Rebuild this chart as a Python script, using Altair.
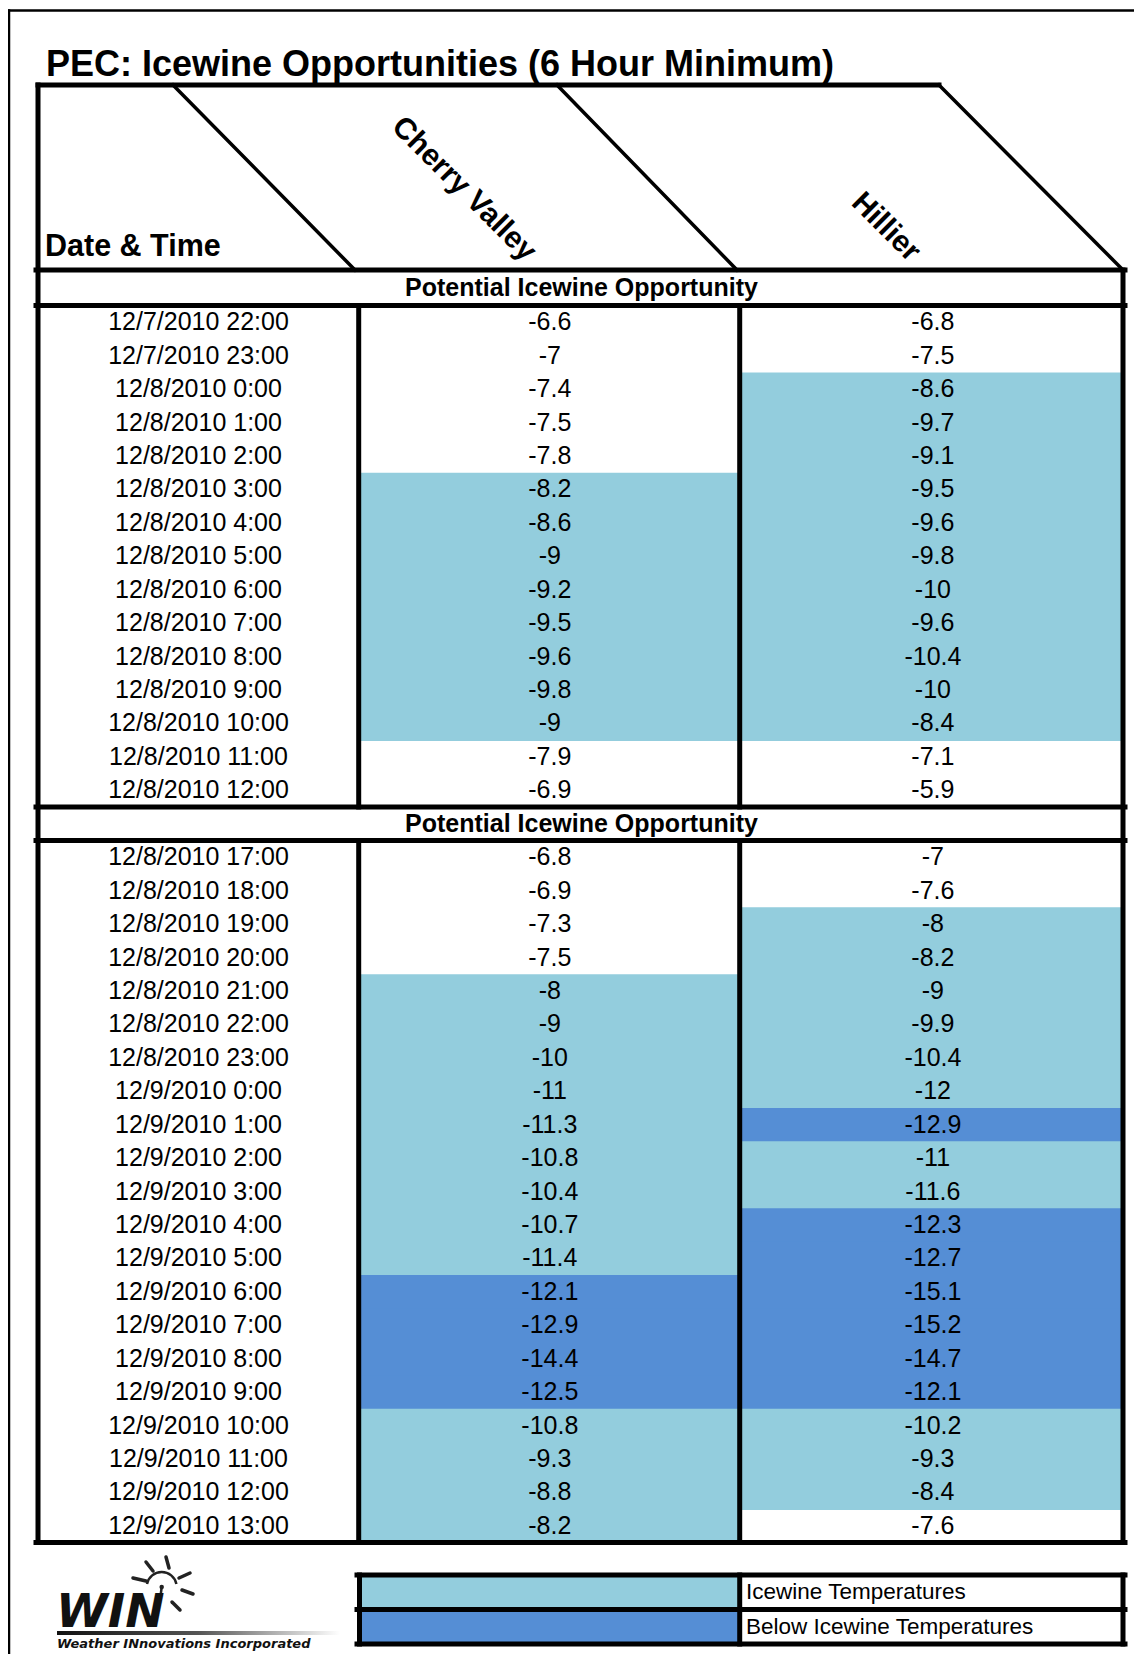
import altair as alt
import pandas as pd

# ---------------- data ----------------
TITLE = "PEC: Icewine Opportunities (6 Hour Minimum)"
DATE_HEADER = "Date & Time"
STATIONS = ["Cherry Valley", "Hillier"]
SECTION_TITLE = "Potential Icewine Opportunity"

dates_1 = ["12/7/2010 22:00", "12/7/2010 23:00", "12/8/2010 0:00", "12/8/2010 1:00",
           "12/8/2010 2:00", "12/8/2010 3:00", "12/8/2010 4:00", "12/8/2010 5:00",
           "12/8/2010 6:00", "12/8/2010 7:00", "12/8/2010 8:00", "12/8/2010 9:00",
           "12/8/2010 10:00", "12/8/2010 11:00", "12/8/2010 12:00"]
cherry_1 = [-6.6, -7, -7.4, -7.5, -7.8, -8.2, -8.6, -9, -9.2, -9.5, -9.6, -9.8, -9, -7.9, -6.9]
hillier_1 = [-6.8, -7.5, -8.6, -9.7, -9.1, -9.5, -9.6, -9.8, -10, -9.6, -10.4, -10, -8.4, -7.1, -5.9]
cherry_cls_1 = list("WWWWWIIIIIIIIWW")
hillier_cls_1 = list("WWIIIIIIIIIIIWW")

dates_2 = ["12/8/2010 17:00", "12/8/2010 18:00", "12/8/2010 19:00", "12/8/2010 20:00",
           "12/8/2010 21:00", "12/8/2010 22:00", "12/8/2010 23:00", "12/9/2010 0:00",
           "12/9/2010 1:00", "12/9/2010 2:00", "12/9/2010 3:00", "12/9/2010 4:00",
           "12/9/2010 5:00", "12/9/2010 6:00", "12/9/2010 7:00", "12/9/2010 8:00",
           "12/9/2010 9:00", "12/9/2010 10:00", "12/9/2010 11:00", "12/9/2010 12:00",
           "12/9/2010 13:00"]
cherry_2 = [-6.8, -6.9, -7.3, -7.5, -8, -9, -10, -11, -11.3, -10.8, -10.4, -10.7, -11.4,
            -12.1, -12.9, -14.4, -12.5, -10.8, -9.3, -8.8, -8.2]
hillier_2 = [-7, -7.6, -8, -8.2, -9, -9.9, -10.4, -12, -12.9, -11, -11.6, -12.3, -12.7,
             -15.1, -15.2, -14.7, -12.1, -10.2, -9.3, -8.4, -7.6]
cherry_cls_2 = list("WWWWIIIIIIIIIBBBBIIII")
hillier_cls_2 = list("WWIIIIIIBIIBBBBBBIIIW")

LEGEND_CLASSES = ["I", "B"]
LEGEND_LABELS = ["Icewine Temperatures", "Below Icewine Temperatures"]
CLASS_COLORS = ["#93CDDD", "#558ED5"]

LOGO_BIG = "WIN"
LOGO_SMALL = "Weather INnovations Incorporated"

# ---------------- layout (page pixels) ----------------
FONT = "Liberation Sans"
X_LEFT, X_C1, X_C2, X_RIGHT = 38, 358.7, 739.7, 1123
ROW_H = 33.43
HDR_TOP, HDR_BOT = 85, 270
SEC_HEAD = [(270, 305.6), (807.3, 840.5)]
COL_CENTER = [198.5, 549.8, 932.9]
LW = 5
W_PX, H_PX = 1126, 1646

XS = alt.Scale(domain=[8, 8 + W_PX], nice=False, zero=False)
YS = alt.Scale(domain=[8, 8 + H_PX], nice=False, zero=False, reverse=True)


def X(f):
    return alt.X(f, type="quantitative", scale=XS, axis=None)


def Y(f):
    return alt.Y(f, type="quantitative", scale=YS, axis=None)


fmt = lambda v: f"{v:g}"

# body rows
rows, cells = [], []
sections = [(dates_1, cherry_1, hillier_1, cherry_cls_1, hillier_cls_1),
            (dates_2, cherry_2, hillier_2, cherry_cls_2, hillier_cls_2)]
for s, (dd, cv, hi, cvc, hic) in enumerate(sections):
    top0 = SEC_HEAD[s][1]
    for i in range(len(dd)):
        t = top0 + i * ROW_H
        rows.append(dict(label=dd[i], x=COL_CENTER[0], y=t + ROW_H / 2))
        for k, (vals, cls, x0, x1) in enumerate([(cv, cvc, X_C1, X_C2), (hi, hic, X_C2, X_RIGHT)]):
            cells.append(dict(label=fmt(vals[i]), cls=cls[i], x=COL_CENTER[k + 1],
                              x0=x0, x1=x1, y0=t, y1=t + ROW_H + 0.8, y=t + ROW_H / 2))
rows_df = pd.DataFrame(rows)
cells_df = pd.DataFrame(cells)
sec_bottoms = [SEC_HEAD[0][1] + len(dates_1) * ROW_H, SEC_HEAD[1][1] + len(dates_2) * ROW_H]

color_scale = alt.Scale(domain=LEGEND_CLASSES, range=CLASS_COLORS)

fills = alt.Chart(cells_df).transform_filter(alt.datum.cls != "W").mark_rect().encode(
    x=X("x0"), x2=alt.X2("x1"), y=Y("y0"), y2=alt.Y2("y1"),
    color=alt.Color("cls:N", scale=color_scale, legend=None))

# legend
LEG_TOP, LEG_H = 1575, 34.5
leg_df = pd.DataFrame(dict(cls=LEGEND_CLASSES, label=LEGEND_LABELS,
                           y0=[LEG_TOP + i * LEG_H for i in range(2)],
                           y1=[LEG_TOP + (i + 1) * LEG_H for i in range(2)]))
leg_df["y"] = (leg_df.y0 + leg_df.y1) / 2
leg_df["x0"], leg_df["x1"], leg_df["tx"] = 359.5, X_C2, 746
leg_fill = alt.Chart(leg_df).mark_rect().encode(
    x=X("x0"), x2=alt.X2("x1"), y=Y("y0"), y2=alt.Y2("y1"),
    color=alt.Color("cls:N", scale=color_scale, legend=None))
leg_text = alt.Chart(leg_df).mark_text(font=FONT, fontSize=22.5, align="left",
                                       baseline="middle", color="black").encode(
    x=X("tx"), y=Y("y"), text="label:N")

# lines
L = []
def seg(x, y, x2, y2, w=LW):
    L.append(dict(x=x, y=y, x2=x2, y2=y2, w=w))

seg(9, 10.5, 1142, 10.5, 2.5)
seg(9, 10.5, 9, 1664, 2.5)
seg(X_LEFT, HDR_TOP, 939, HDR_TOP)
seg(X_LEFT, HDR_TOP, X_LEFT, sec_bottoms[1])
seg(X_RIGHT, HDR_BOT, X_RIGHT, sec_bottoms[1])
seg(173, HDR_TOP, 355, HDR_BOT, 3.5)
seg(557, HDR_TOP, 737, HDR_BOT, 3.5)
seg(939, HDR_TOP, X_RIGHT, HDR_BOT, 3.5)
for yy in [HDR_BOT, SEC_HEAD[0][1], sec_bottoms[0], SEC_HEAD[1][1], sec_bottoms[1]]:
    seg(X_LEFT - 2, yy, X_RIGHT + 2, yy)
for xx in [X_C1, X_C2]:
    seg(xx, SEC_HEAD[0][1], xx, sec_bottoms[0])
    seg(xx, SEC_HEAD[1][1], xx, sec_bottoms[1])
for i in range(3):
    seg(357, LEG_TOP + i * LEG_H, X_RIGHT + 2, LEG_TOP + i * LEG_H)
for xx in [359.5, X_C2, X_RIGHT]:
    seg(xx, LEG_TOP, xx, LEG_TOP + 2 * LEG_H)
lines_df = pd.DataFrame(L)
lines = alt.Chart(lines_df).mark_rule(color="black", strokeCap="square").encode(
    x=X("x"), y=Y("y"), x2=alt.X2("x2"), y2=alt.Y2("y2"),
    strokeWidth=alt.StrokeWidth("w:Q", scale=None))

# texts
def text_layer(df, **kw):
    base = dict(font=FONT, color="black")
    base.update(kw)
    return alt.Chart(df).mark_text(**base).encode(x=X("x"), y=Y("y"), text="label:N")

title = text_layer(pd.DataFrame([dict(label=TITLE, x=46, y=76)]), fontSize=36,
                   fontWeight="bold", align="left", baseline="alphabetic")
date_hdr = text_layer(pd.DataFrame([dict(label=DATE_HEADER, x=45, y=256)]), fontSize=30.5,
                      fontWeight="bold", align="left", baseline="alphabetic")
stations = text_layer(pd.DataFrame(dict(label=STATIONS, x=[464, 886], y=[189, 227])),
                      fontSize=30, fontWeight="bold", align="center",
                      baseline="middle", angle=45)
sec_df = pd.DataFrame(dict(label=[SECTION_TITLE] * 2, x=[581.5] * 2,
                           y=[(a + b) / 2 for a, b in SEC_HEAD]))
sec_titles = text_layer(sec_df, fontSize=25, fontWeight="bold", align="center", baseline="middle")
date_text = text_layer(rows_df, fontSize=25, align="center", baseline="middle")
val_text = text_layer(cells_df, fontSize=25, align="center", baseline="middle")

# logo
logo_big = text_layer(pd.DataFrame([dict(label=LOGO_BIG, x=56, y=1627)]),
                      font="DejaVu Sans", fontSize=47, fontWeight="bold", fontStyle="italic",
                      align="left", baseline="alphabetic", color="#111")
logo_small = text_layer(pd.DataFrame([dict(label=LOGO_SMALL, x=57, y=1648)]),
                        font="DejaVu Sans", fontSize=13, fontWeight="bold", fontStyle="italic",
                        align="left", baseline="alphabetic", color="#111")
bar = alt.Chart(pd.DataFrame([dict(x0=57, x1=340, y0=1631, y1=1635)])).mark_rect(
    fill=alt.Gradient(gradient="linear",
                      stops=[alt.GradientStop(color="#111111", offset=0),
                             alt.GradientStop(color="#555555", offset=0.5),
                             alt.GradientStop(color="#ffffff", offset=1)],
                      x1=0, x2=1, y1=0, y2=0)).encode(
    x=X("x0"), x2=alt.X2("x1"), y=Y("y0"), y2=alt.Y2("y1"))
rays_df = pd.DataFrame([
    dict(x=166, y=1557, x2=169, y2=1568, w=3.5),
    dict(x=146, y=1562, x2=153, y2=1571, w=3.5),
    dict(x=133, y=1578, x2=146, y2=1581, w=3.5),
    dict(x=190, y=1573, x2=179, y2=1578, w=3.5),
    dict(x=193, y=1594, x2=182, y2=1590, w=3.5),
    dict(x=180, y=1610, x2=172, y2=1602, w=3.5),
    dict(x=161.7, y=1587, x2=160, y2=1600, w=2.5),
])
rays = alt.Chart(rays_df).mark_rule(color="#222", strokeCap="round").encode(
    x=X("x"), y=Y("y"), x2=alt.X2("x2"), y2=alt.Y2("y2"),
    strokeWidth=alt.StrokeWidth("w:Q", scale=None))
sun = alt.Chart(pd.DataFrame([dict(x=161.7, y=1587)])).mark_point(
    shape="M -0.98 -0.2 A 1 1 0 0 1 0.98 -0.2", filled=False, stroke="#222",
    strokeWidth=2.5, size=900, opacity=1).encode(x=X("x"), y=Y("y"))
dot = alt.Chart(pd.DataFrame([dict(x=161.7, y=1587)])).mark_point(
    shape="circle", filled=True, color="#222", size=20, opacity=1).encode(x=X("x"), y=Y("y"))

chart = alt.layer(fills, leg_fill, lines, title, date_hdr, stations, sec_titles,
                  date_text, val_text, leg_text, bar, rays, sun, dot, logo_big, logo_small
                  ).properties(width=W_PX, height=H_PX, padding=0,
                               autosize=alt.AutoSizeParams(type="none"),
                               background="white"
                  ).configure_view(stroke=None)

chart.save("out.html", embed_options={"renderer": "svg", "actions": False})
